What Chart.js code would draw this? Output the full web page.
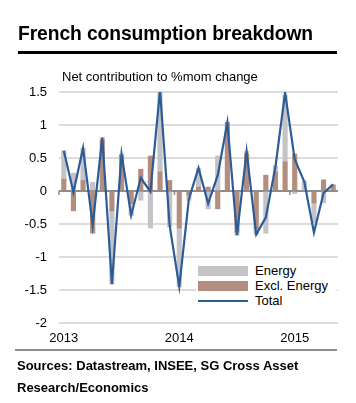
<!DOCTYPE html>
<html>
<head>
<meta charset="utf-8">
<script src="https://cdn.jsdelivr.net/npm/chart.js@4/dist/chart.umd.min.js"></script>
<style>
  html, body { margin:0; padding:0; background:#fff; }
  body { width:356px; height:403px; position:relative; overflow:hidden; font-family:"Liberation Sans", Arial, Helvetica, sans-serif; color:#000; }
  #wrap { position:absolute; left:0; top:0; width:356px; height:403px; }
  #title { position:absolute; left:18px; top:23px; font-size:19.3px; font-weight:bold; letter-spacing:-0.1px; white-space:nowrap; }
  #rule { position:absolute; left:18px; top:51px; width:319px; height:3px; background:#000; }
  #sub { position:absolute; left:62px; top:69px; font-size:13px; white-space:nowrap; }
  #brule { position:absolute; left:15px; top:349px; width:322px; height:2px; background:#8c8c8c; }
  #src { position:absolute; left:17px; top:355px; font-size:13px; font-weight:bold; line-height:22px; }
  #legend { position:absolute; left:196px; top:263px; width:141px; height:46px; background:#fff; font-size:13px; }
  .row { position:absolute; left:2px; height:15px; }
  .sw { position:absolute; left:0; width:50px; height:10px; }
  .lt { position:absolute; left:57px; top:-3px; white-space:nowrap; }
</style>
</head>
<body>
<div id="wrap"><canvas id="c" width="356" height="403"></canvas></div>
<div id="title">French consumption breakdown</div>
<div id="rule"></div>
<div id="sub">Net contribution to %mom change</div>
<div id="legend">
  <div class="row" style="top:3px"><div class="sw" style="background:#c3c3c8;top:0"></div><div class="lt">Energy</div></div>
  <div class="row" style="top:18px"><div class="sw" style="background:#b38d7d;top:0"></div><div class="lt">Excl. Energy</div></div>
  <div class="row" style="top:33px"><div class="sw" style="background:#2b5c97;top:4px;height:2px"></div><div class="lt">Total</div></div>
</div>
<div id="brule"></div>
<div id="src">Sources: Datastream, INSEE, SG Cross Asset<br>Research/Economics</div>
<script>
const months = ["2013-01","2013-02","2013-03","2013-04","2013-05","2013-06","2013-07","2013-08","2013-09","2013-10","2013-11","2013-12",
                "2014-01","2014-02","2014-03","2014-04","2014-05","2014-06","2014-07","2014-08","2014-09","2014-10","2014-11","2014-12",
                "2015-01","2015-02","2015-03","2015-04","2015-05"];
const yearTicks = {"2013-01":"2013","2014-01":"2014","2015-01":"2015"};
const energy = [0.43, 0.27, 0.49, 0.13, 0.04, -1.11, 0.02, -0.18, -0.14, -0.56, 1.24, -0.54, -0.89, -0.08, 0.28, -0.27, 0.53, 0.00, -0.05, 0.04, -0.09, -0.64, 0.09, 1.01, -0.04, 0.15, -0.30, -0.18, 0.02];
const exclEnergy = [0.18, -0.30, 0.16, -0.64, 0.77, -0.30, 0.54, -0.19, 0.33, 0.53, 0.29, 0.16, -0.56, -0.06, 0.06, 0.06, -0.27, 1.04, -0.62, 0.56, -0.57, 0.24, 0.29, 0.44, 0.56, 0.00, -0.18, 0.17, 0.08];
const total = [0.61, -0.02, 0.65, -0.52, 0.81, -1.41, 0.56, -0.37, 0.20, -0.01, 1.53, -0.52, -1.45, -0.12, 0.35, -0.19, 0.24, 1.04, -0.67, 0.60, -0.66, -0.40, 0.37, 1.49, 0.48, 0.14, -0.63, -0.03, 0.10];
const yTicks = [1.5, 1, 0.5, 0, -0.5, -1, -1.5, -2];
const yearBoundaries = [-0.5, 11.5, 23.5];

const FONT = '"Liberation Sans", Arial, Helvetica, sans-serif';

const axisTicks = {
  id: 'axisTicks',
  beforeDatasetsDraw(chart) {
    const x = chart.scales.x, y = chart.scales.y, ctx = chart.ctx;
    const y0 = y.getPixelForValue(0);
    const half = (x.getPixelForValue(1) - x.getPixelForValue(0)) / 2;
    ctx.save();
    ctx.strokeStyle = '#8c8c8c';
    ctx.lineWidth = 1.5;
    yearBoundaries.forEach(b => {
      const px = x.getPixelForValue(Math.ceil(b)) - half;
      ctx.beginPath();
      ctx.moveTo(px, y0);
      ctx.lineTo(px, y0 + 4);
      ctx.stroke();
    });
    ctx.restore();
  }
};

new Chart(document.getElementById('c'), {
  type: 'bar',
  data: {
    labels: months,
    datasets: [
      { type:'line', label:'Total', data: total, borderColor:'#2b5c97', borderWidth:2.2, pointRadius:0, tension:0, fill:false, order:0, stack:'line' },
      { label:'Excl. Energy', data: exclEnergy, backgroundColor:'#b38d7d', barThickness:4.5, order:1, stack:'bars' },
      { label:'Energy', data: energy, backgroundColor:'#c3c3c8', barThickness:4.5, order:1, stack:'bars' }
    ]
  },
  options: {
    responsive:false,
    animation:false,
    devicePixelRatio:1,
    layout:{ padding:{ left:0, right:18, top:92, bottom:53 } },
    plugins:{ legend:{ display:false }, tooltip:{ enabled:false } },
    scales:{
      x:{
        stacked:true,
        offset:true,
        grid:{ display:false, drawTicks:false },
        border:{ display:false },
        ticks:{
          autoSkip:false, maxRotation:0, padding:8,
          color:'#000', font:{ family:FONT, size:13 },
          callback:(v, i) => yearTicks[months[i]] || ''
        },
        afterFit:(s) => { s.height = 27; }
      },
      y:{
        stacked:true,
        min:-2, max:1.5,
        afterBuildTicks:(s) => { s.ticks = yTicks.map(v => ({ value:v })); },
        grid:{
          drawTicks:false,
          color:(c) => c.tick && c.tick.value === 0 ? '#8c8c8c' : '#dcdcdc',
          lineWidth:2
        },
        border:{ display:false },
        ticks:{ padding:12, color:'#000', font:{ family:FONT, size:13 },
          callback:(v) => String(v) },
        afterFit:(s) => { s.width = 59; }
      }
    }
  },
  plugins:[axisTicks]
});
</script>
</body>
</html>
